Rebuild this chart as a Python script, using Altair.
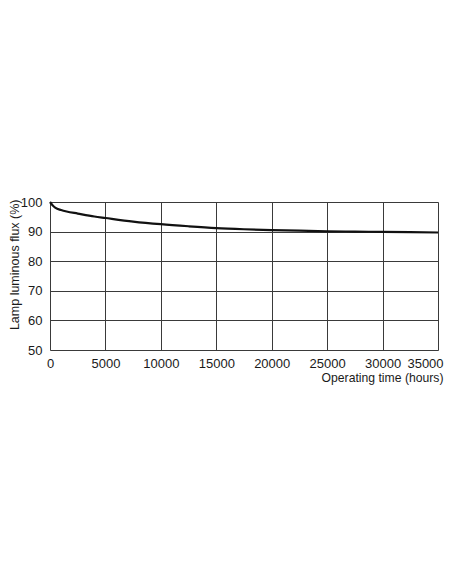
import altair as alt
import pandas as pd

hours = [0, 250, 500, 1000, 1500, 2500, 4000, 5000, 7500, 10000, 12500,
         15000, 17500, 20000, 22500, 25000, 27500, 30000, 32500, 35000]
flux = [100, 98.8, 98.0, 97.3, 96.8, 96.1, 95.1, 94.6, 93.4, 92.5, 91.8,
        91.2, 90.8, 90.5, 90.3, 90.1, 90.0, 89.9, 89.8, 89.7]

x_ticks = [0, 5000, 10000, 15000, 20000, 25000, 30000, 35000]
y_ticks = [50, 60, 70, 80, 90, 100]

df = pd.DataFrame({"hours": hours, "flux": flux})

FONT = "Liberation Sans"

chart = alt.Chart(df).mark_line(
    color="#111111", strokeWidth=2.2, interpolate="monotone"
).encode(
    x=alt.X("hours:Q",
            scale=alt.Scale(domain=[0, 35000], nice=False, zero=False),
            axis=alt.Axis(values=x_ticks, format="d", title="Operating time (hours)",
                          grid=True, ticks=False, domain=False,
                          labelPadding=7, labelFontSize=13, labelFont=FONT,
                          labelColor="#1a1a1a", labelFlush=False,
                          labelOffset={"condition": {"test": "datum.value === 35000", "value": -13},
                                       "value": 0},
                          titleFont=FONT, titleFontSize=12.2, titleFontWeight="normal",
                          titleColor="#1a1a1a", titleAnchor="end", titleAlign="right",
                          titleBaseline="top", titleX=393, titleY=21,
                          gridColor="#3a3a3a", gridWidth=1, gridOpacity=1)),
    y=alt.Y("flux:Q",
            scale=alt.Scale(domain=[50, 100], nice=False, zero=False),
            axis=alt.Axis(values=y_ticks, title="Lamp luminous flux (%)",
                          grid=True, ticks=False, domain=False,
                          labelPadding=8, labelFontSize=13, labelFont=FONT,
                          labelColor="#1a1a1a", labelFlush=False,
                          titleFont=FONT, titleFontSize=12.5, titleFontWeight="normal",
                          titleColor="#1a1a1a", titleAngle=270, titleAlign="right",
                          titleBaseline="top", titleX=-42, titleY=-3,
                          gridColor="#3a3a3a", gridWidth=1, gridOpacity=1)),
).properties(
    width=388,
    height=148,
    autosize=alt.AutoSizeParams(type="none"),
    padding={"left": 42, "top": 194, "right": 6, "bottom": 40},
).configure_view(
    stroke="#2a2a2a", strokeWidth=1.2
).configure(background="white")

chart.save("out.html", embed_options={"renderer": "svg", "actions": False})
